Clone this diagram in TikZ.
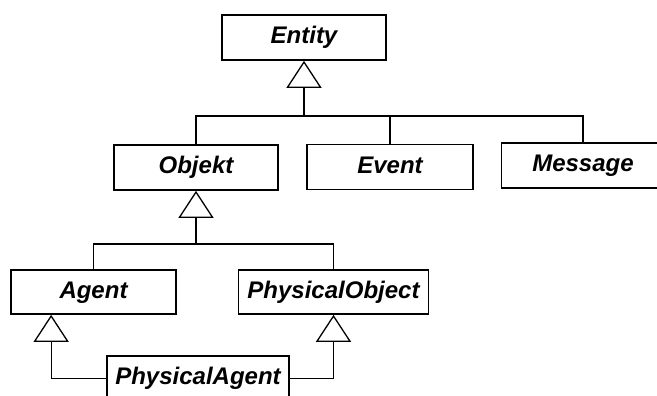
\documentclass[tikz,border=0pt]{standalone}
\usepackage{fontspec}
\setmainfont{Liberation Sans}
\usetikzlibrary{arrows.meta}
\begin{document}
\begin{tikzpicture}[x=1pt,y=-1pt,
  cls/.style={draw, line width=1.7pt, minimum height=45pt, inner sep=0pt,
    text height=17.5pt, text depth=5pt,
    font=\fontsize{24}{28}\selectfont\bfseries\itshape},
  link/.style={line width=1.3pt},
  gen/.style={link, -{Triangle[open, length=27pt, width=35pt, line width=1.3pt]}}]
\useasboundingbox (0,0) rectangle (657,396);

% class boxes
\node[cls, minimum width=164pt] (entity) at (304,37.5) {Entity};
\node[cls, minimum width=164pt] (objekt) at (196,167.5) {Objekt};
\node[cls, minimum width=166pt] (event) at (390,167) {Event};
\node[cls, minimum width=163pt] (message) at (583,165.5) {Message};
\node[cls, minimum width=165pt, minimum height=44pt] (agent) at (93.5,292) {Agent};
\node[cls, minimum width=190pt, minimum height=44pt] (physobj) at (333.5,292) {PhysicalObject};
\node[cls, minimum width=182pt] (physagent) at (198,378.5) {PhysicalAgent};

% junction points of the generalisation trees
\coordinate (j1) at (304,116);
\coordinate (j2) at (196,244);

% Entity subclasses
\draw[link] (objekt.north) |- (j1);
\draw[link] (event.north) |- (j1);
\draw[link] (message.north) |- (j1);
\draw[gen] (j1) -- (entity.south);

% Objekt subclasses
\draw[link] (agent.north) |- (j2);
\draw[link] (physobj.north) |- (j2);
\draw[gen] (j2) -- (objekt.south);

% PhysicalAgent inherits from both
\draw[gen] (physagent.west) -| ([xshift=41pt]agent.south west);
\draw[gen] (physagent.east) -| (physobj.south);
\end{tikzpicture}
\end{document}
